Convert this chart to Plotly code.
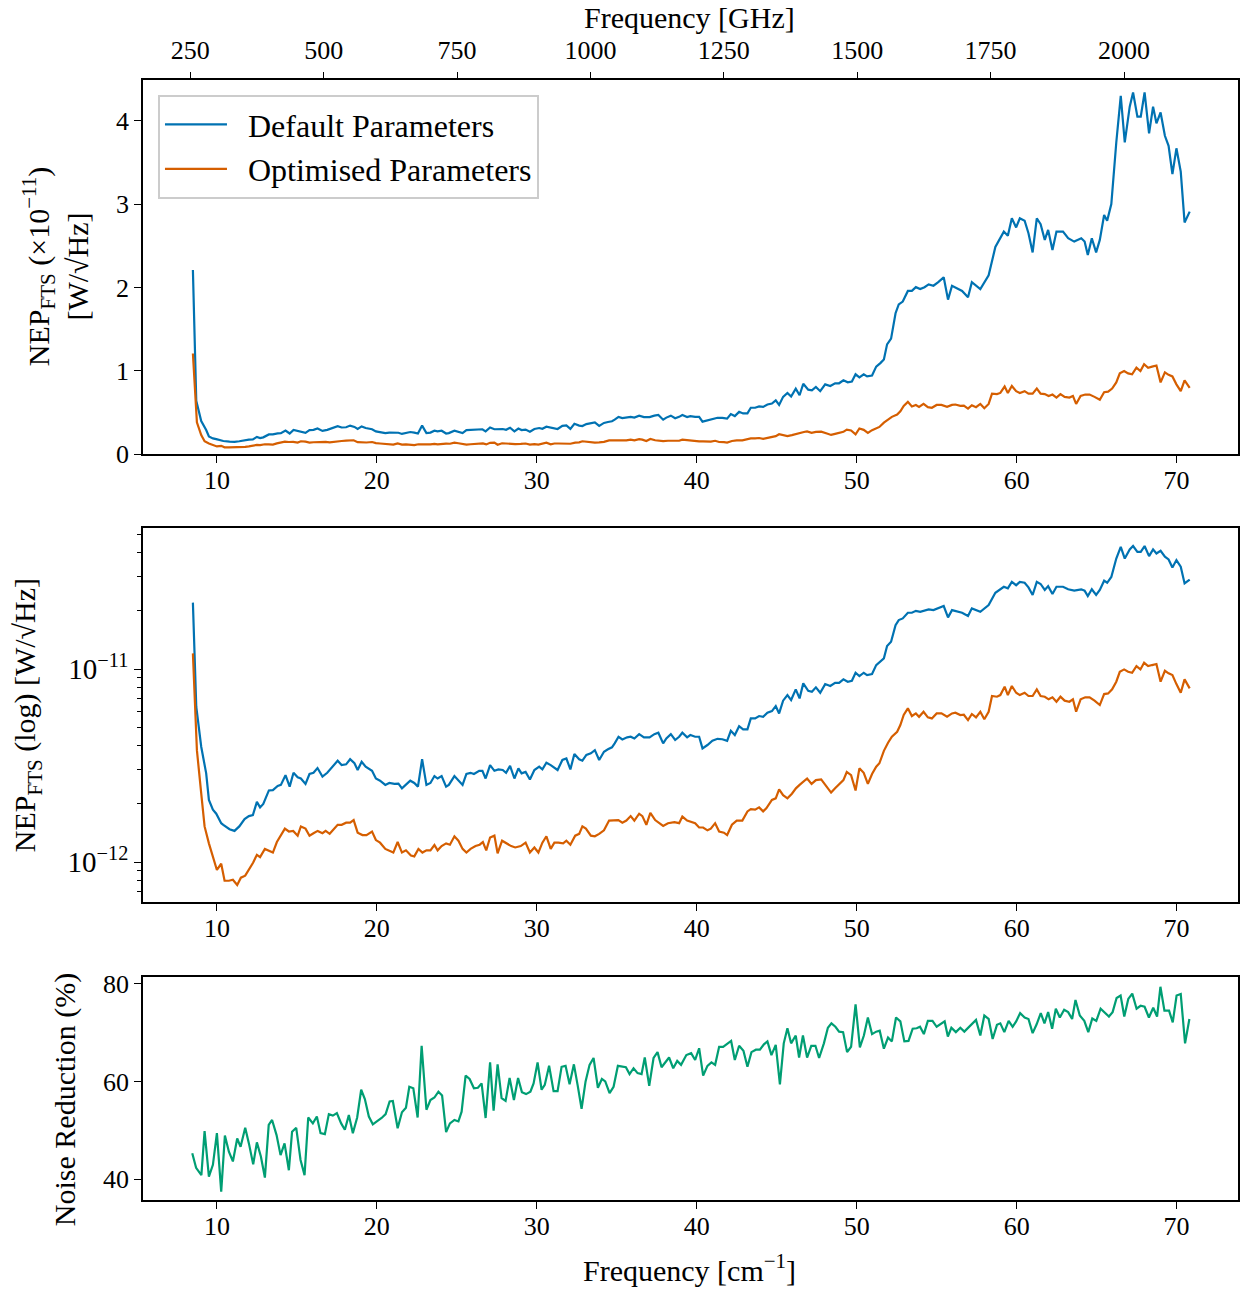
import plotly.graph_objects as go

# ---------------- data ----------------
# NEP values in units of 1e-11 W/sqrt(Hz); frequency in cm^-1
freq_default = [
    8.5, 8.71, 9.02, 9.33, 9.5, 9.75, 9.96, 10.27, 10.4, 10.79, 11.1, 11.4, 11.73, 12.0, 12.25, 12.5, 12.7, 12.9,
    13.25, 13.5, 13.8, 14.0, 14.29, 14.55, 14.79, 15.05, 15.25, 15.54, 15.79, 16.04, 16.29, 16.6, 16.9, 17.25,
    17.55, 17.8, 18.08, 18.33, 18.6, 18.8, 19.05, 19.3, 19.7, 19.94, 20.2, 20.53, 20.78, 21.1, 21.35, 21.57,
    21.82, 22.09, 22.34, 22.57, 22.83,
    23.1, 23.35, 23.6, 23.8, 24.05, 24.33, 24.5, 24.85, 25.1, 25.36, 25.6, 25.86, 26.07, 26.4, 26.6, 26.8, 27.08,
    27.35, 27.6, 27.87, 28.08, 28.33, 28.6, 28.85, 29.05, 29.3, 29.57, 29.85, 30.15, 30.35, 30.6, 30.87, 31.3,
    31.6, 31.85, 32.1, 32.35, 32.65, 32.85, 33.1, 33.38, 33.63, 33.9, 34.2, 34.45, 34.7, 34.87, 35.11, 35.35,
    35.65, 35.87, 36.1, 36.4, 36.7, 37.05, 37.35, 37.6, 37.9, 38.1, 38.38, 38.65, 38.9, 39.1, 39.4,
    39.6, 39.9, 40.15, 40.36, 40.67, 40.98, 41.3, 41.6, 41.9, 42.13, 42.38, 42.65, 42.9, 43.17, 43.38, 43.65,
    43.9, 44.15, 44.42, 44.7, 44.94, 45.15, 45.4, 45.67, 45.9, 46.19, 46.43, 46.66, 46.97, 47.2, 47.45, 47.72,
    48.03, 48.35, 48.65, 48.9, 49.17, 49.44, 49.7, 49.93, 50.17, 50.44, 50.65, 50.96, 51.22, 51.48, 51.7, 51.9,
    52.15, 52.43, 52.63, 52.88, 53.2, 53.45, 53.7, 53.97, 54.24, 54.5, 54.8, 55.1, 55.44, 55.71,
    55.96, 56.59, 56.96, 57.2, 57.73, 58.25, 58.67, 59.2, 59.45, 59.7, 59.97, 60.2, 60.5, 60.74, 61.0, 61.26,
    61.5, 61.76, 61.97, 62.24, 62.49, 62.9, 63.22, 63.6, 64.04, 64.25, 64.45, 64.7, 64.97, 65.2, 65.47, 65.66,
    65.92, 66.23, 66.51, 66.76, 67.07, 67.28, 67.55, 67.76, 68.0, 68.28, 68.53, 68.74, 69.0, 69.27, 69.5,
    69.74, 69.99, 70.26, 70.5, 70.82,
]
nep_default = [
    2.21, 0.638, 0.396, 0.288, 0.210, 0.187, 0.178, 0.159, 0.156, 0.148, 0.145, 0.153, 0.167, 0.173, 0.175,
    0.205, 0.192, 0.200, 0.235, 0.236, 0.248, 0.251, 0.282, 0.246, 0.290, 0.275, 0.271, 0.254, 0.286, 0.290,
    0.307, 0.277, 0.290, 0.312, 0.335, 0.318, 0.321, 0.341, 0.325, 0.300, 0.331, 0.312, 0.297, 0.271, 0.264,
    0.251, 0.257, 0.254, 0.255, 0.241, 0.251, 0.264, 0.257, 0.246, 0.341,
    0.251, 0.257, 0.279, 0.271, 0.279, 0.246, 0.251, 0.279, 0.264, 0.251, 0.286, 0.290, 0.286, 0.297, 0.297,
    0.271, 0.318, 0.297, 0.302, 0.300, 0.290, 0.315, 0.271, 0.306, 0.288, 0.293, 0.268, 0.300, 0.312, 0.302,
    0.327, 0.318, 0.300, 0.338, 0.344, 0.302, 0.363, 0.341, 0.335, 0.359, 0.366, 0.380, 0.338, 0.373, 0.384,
    0.393, 0.412, 0.446, 0.432, 0.443, 0.446, 0.437, 0.460, 0.443, 0.443, 0.460, 0.468, 0.412, 0.437, 0.460,
    0.429, 0.446, 0.468, 0.443,
    0.455, 0.446, 0.446, 0.388, 0.404, 0.425, 0.435, 0.433, 0.425, 0.479, 0.455, 0.506, 0.487, 0.487, 0.555,
    0.555, 0.571, 0.566, 0.594, 0.606, 0.643, 0.589, 0.686, 0.733, 0.691, 0.785, 0.705, 0.843, 0.772, 0.763,
    0.804, 0.754, 0.836, 0.817, 0.849, 0.849, 0.884, 0.860, 0.870, 0.957, 0.920, 0.957, 0.931, 0.942, 1.049,
    1.091, 1.136, 1.316, 1.385, 1.690, 1.795, 1.830, 1.958, 1.958, 2.003, 1.98, 2.003, 2.037, 2.02, 2.063,
    2.121, 1.853,
    2.02, 1.958, 1.882, 2.063, 1.98, 2.145, 2.485, 2.67, 2.62, 2.83, 2.72, 2.83, 2.80, 2.65, 2.42, 2.83, 2.76,
    2.57, 2.69, 2.45, 2.67, 2.67, 2.59, 2.55, 2.59, 2.55, 2.39, 2.59, 2.42, 2.57, 2.87, 2.80, 3.0, 3.74, 4.30,
    3.74, 4.17, 4.34, 4.05, 4.05, 4.34, 3.85, 4.17, 3.97, 4.10, 3.82, 3.70, 3.36, 3.67, 3.39, 2.78, 2.91,
]

freq_optimised = [
    8.5, 8.75, 9.02, 9.23, 9.5, 9.75, 10.0, 10.27, 10.48, 10.75, 11.0, 11.27, 11.5, 11.77, 12.0, 12.27, 12.5,
    12.7, 13.0, 13.24, 13.5, 13.75, 14.05, 14.25, 14.5, 14.77, 15.05, 15.25, 15.54, 15.79, 16.04, 16.3, 16.6,
    16.8, 17.05, 17.35, 17.55, 17.8, 18.08, 18.33, 18.55, 18.8, 19.1, 19.35, 19.7, 19.94, 20.2, 20.53, 20.78,
    21.03, 21.3, 21.57, 21.82, 22.13, 22.34, 22.6, 22.85,
    23.1, 23.35, 23.6, 23.8, 24.05, 24.33, 24.57, 24.85, 25.1, 25.36, 25.6, 25.86, 26.17, 26.43, 26.63, 26.84,
    27.08, 27.35, 27.55, 27.83, 28.1, 28.4, 28.65, 29.0, 29.3, 29.57, 29.85, 30.1, 30.35, 30.6, 30.87, 31.1,
    31.35, 31.65, 31.85, 32.1, 32.4, 32.65, 32.85, 33.07, 33.38, 33.63, 33.9, 34.2, 34.52, 34.83, 35.1, 35.35,
    35.6, 35.87, 36.1, 36.4, 36.6, 36.85, 37.1, 37.4, 37.65, 37.9, 38.2, 38.6, 38.9, 39.1, 39.4,
    39.9, 40.15, 40.4, 40.67, 40.88, 41.15, 41.4, 41.7, 41.9, 42.2, 42.5, 42.85, 43.17, 43.38, 43.65, 43.9,
    44.15, 44.35, 44.7, 44.94, 45.15, 45.4, 45.67, 45.95, 46.2, 46.43, 46.7, 46.9, 47.18, 47.45, 47.78, 48.14,
    48.4, 48.65, 48.9, 49.17, 49.38, 49.65, 49.93, 50.17, 50.44, 50.7, 50.96, 51.22, 51.42, 51.7, 51.96, 52.2,
    52.53, 52.73, 52.94, 53.2, 53.45, 53.7, 53.9, 54.18, 54.45, 54.7, 55.0, 55.3, 55.65, 55.96,
    56.17, 56.48, 56.7, 56.96, 57.2, 57.46, 57.73, 57.98, 58.25, 58.46, 58.77, 58.98, 59.25, 59.45, 59.7,
    59.97, 60.2, 60.5, 60.74, 61.0, 61.26, 61.5, 61.76, 62.0, 62.24, 62.49, 62.74, 63.0, 63.3, 63.52, 63.72,
    64.0, 64.29, 64.56, 64.87, 65.2, 65.47, 65.72, 65.97, 66.23, 66.45, 66.72, 66.97, 67.22, 67.49, 67.74,
    67.97, 68.22, 68.47, 68.74, 69.0, 69.27, 69.5, 69.74, 69.99, 70.26, 70.5, 70.82,
]
nep_optimised = [
    1.206, 0.380, 0.227, 0.153, 0.125, 0.105, 0.091, 0.098, 0.080, 0.080, 0.081, 0.076, 0.083, 0.085, 0.091,
    0.0995, 0.109, 0.106, 0.117, 0.115, 0.112, 0.127, 0.141, 0.149, 0.144, 0.145, 0.137, 0.153, 0.149, 0.137,
    0.141, 0.145, 0.141, 0.145, 0.140, 0.149, 0.156, 0.156, 0.160, 0.160, 0.165, 0.142, 0.138, 0.138, 0.144,
    0.130, 0.126, 0.117, 0.115, 0.112, 0.127, 0.112, 0.115, 0.108, 0.107, 0.117, 0.112,
    0.115, 0.115, 0.1225, 0.115, 0.121, 0.125, 0.123, 0.136, 0.129, 0.117, 0.112, 0.117, 0.121, 0.123, 0.127,
    0.115, 0.134, 0.137, 0.111, 0.129, 0.125, 0.121, 0.119, 0.121, 0.126, 0.112, 0.119, 0.112, 0.126, 0.136,
    0.117, 0.126, 0.126, 0.125, 0.129, 0.123, 0.137, 0.140, 0.153, 0.149, 0.137, 0.136, 0.140, 0.146, 0.164,
    0.164, 0.165, 0.160, 0.164, 0.173, 0.164, 0.178, 0.173, 0.156, 0.180, 0.165, 0.159, 0.154, 0.159, 0.161,
    0.159, 0.172, 0.164,
    0.159, 0.151, 0.151, 0.146, 0.149, 0.159, 0.144, 0.142, 0.138, 0.156, 0.164, 0.164, 0.183, 0.188, 0.187,
    0.192, 0.183, 0.190, 0.210, 0.214, 0.238, 0.222, 0.214, 0.226, 0.241, 0.251, 0.264, 0.271, 0.254, 0.266,
    0.268, 0.246, 0.229, 0.241, 0.254, 0.266, 0.293, 0.282, 0.235, 0.306, 0.290, 0.254, 0.286, 0.312, 0.325,
    0.377, 0.415, 0.446, 0.473, 0.513, 0.578, 0.626, 0.571, 0.589, 0.566, 0.601, 0.562, 0.555, 0.589, 0.589,
    0.566, 0.589,
    0.594, 0.578, 0.58, 0.544, 0.585, 0.562, 0.601, 0.549, 0.601, 0.725, 0.719, 0.733, 0.810, 0.733, 0.817,
    0.754, 0.733, 0.754, 0.725, 0.725, 0.785, 0.725, 0.719, 0.697, 0.714, 0.677, 0.719, 0.686, 0.677, 0.697,
    0.601, 0.697, 0.714, 0.714, 0.686, 0.651, 0.742, 0.748, 0.785, 0.860, 0.968, 0.996, 0.968, 0.957, 1.036,
    0.996, 1.078, 1.036, 1.049, 1.062, 0.860, 0.980, 0.950, 0.931, 0.836, 0.754, 0.884, 0.794,
]

freq_reduction = [
    8.46, 8.7, 9.03, 9.23, 9.5, 9.75, 10.0, 10.27, 10.5, 10.75, 11.0, 11.27, 11.48, 11.77, 12.0, 12.27, 12.5,
    12.75, 13.0, 13.24, 13.45, 13.73, 13.98, 14.23, 14.5, 14.7, 14.96, 15.23, 15.48, 15.71, 16.0, 16.25, 16.48,
    16.75, 17.0, 17.25, 17.5, 17.77, 18.0, 18.25, 18.5, 18.77, 19.02, 19.25, 19.5, 19.75, 20.0, 20.3, 20.55,
    20.8, 21.0, 21.3, 21.57, 21.82, 22.03, 22.28, 22.55, 22.8,
    23.1, 23.35, 23.6, 23.85, 24.08, 24.33, 24.57, 24.85, 25.1, 25.3, 25.55, 25.8, 26.07, 26.32, 26.55, 26.8,
    27.08, 27.3, 27.55, 27.8, 28.05, 28.3, 28.57, 28.83, 29.07, 29.33, 29.6, 29.8, 30.05, 30.3, 30.5, 30.77,
    31.05, 31.3, 31.55, 31.8, 32.05, 32.32, 32.55, 32.8, 33.05, 33.3, 33.55, 33.82, 34.07, 34.28, 34.55, 34.8,
    35.07, 35.3, 35.57, 35.8, 36.05, 36.3, 36.55, 36.75, 37.03, 37.3, 37.55, 37.8, 38.05, 38.27, 38.53, 38.78,
    39.02, 39.35,
    39.65, 39.9, 40.15, 40.4, 40.67, 40.92, 41.15, 41.4, 41.65, 41.9, 42.15, 42.38, 42.65, 42.92, 43.17, 43.42,
    43.7, 43.95, 44.2, 44.42, 44.67, 44.94, 45.2, 45.44, 45.67, 45.9, 46.19, 46.4, 46.64, 46.9, 47.16, 47.42,
    47.65, 47.95, 48.2, 48.42, 48.67, 48.9, 49.15, 49.4, 49.65, 49.93, 50.2, 50.45, 50.7, 50.96, 51.22, 51.44,
    51.7, 51.96, 52.2, 52.46, 52.73, 52.98, 53.24, 53.5, 53.75, 53.96, 54.2, 54.45, 54.74, 55.0, 55.26, 55.5,
    55.7, 55.92,
    56.2, 56.48, 56.73, 56.96, 57.2, 57.46, 57.73, 57.98, 58.25, 58.5, 58.77, 58.98, 59.23, 59.5, 59.75, 59.97,
    60.22, 60.5, 60.74, 61.0, 61.25, 61.51, 61.74, 61.97, 62.22, 62.45, 62.7, 62.97, 63.22, 63.47, 63.68,
    63.95, 64.23, 64.48, 64.73, 64.98, 65.25, 65.52, 65.77, 66.0, 66.25, 66.5, 66.73, 66.98, 67.23, 67.5,
    67.75, 68.0, 68.27, 68.54, 68.78, 68.99, 69.24, 69.53, 69.76, 70.0, 70.26, 70.53, 70.8,
]
reduction = [
    45.3, 42.3, 40.8, 49.8, 40.5, 42.9, 49.4, 37.4, 48.9, 45.6, 43.6, 48.3, 46.6, 50.5, 47.3, 43.0, 47.5,
    44.6, 40.3, 51.1, 52.1, 49.0, 44.9, 47.3, 41.8, 49.7, 50.5, 43.9, 40.8, 52.6, 51.4, 52.8, 49.4, 49.2,
    53.3, 53.0, 53.5, 51.4, 50.1, 53.1, 49.4, 52.6, 58.3, 56.4, 52.8, 51.2, 51.8, 52.5, 53.3, 55.9, 56.0,
    50.4, 53.7, 54.6, 58.9, 58.6, 52.6, 67.3,
    54.2, 56.2, 56.7, 57.9, 57.1, 49.6, 51.4, 52.1, 51.8, 53.8, 61.2, 60.5, 58.6, 58.7, 59.6, 52.5, 63.9,
    54.0, 63.5, 56.6, 56.0, 60.7, 56.2, 60.7, 57.8, 57.4, 57.9, 59.6, 63.9, 58.3, 59.3, 63.2, 58.0, 58.0,
    63.0, 63.2, 59.4, 63.5, 59.3, 54.4, 60.0, 63.4, 64.8, 58.7, 60.5, 60.0, 57.6, 58.9, 63.2, 63.0, 62.9,
    61.5, 62.7, 61.7, 61.5, 64.9, 59.1, 64.8, 66.0, 62.9, 63.9, 64.9, 62.7, 64.2, 63.4, 65.4,
    65.8, 64.4, 66.8, 61.2, 63.2, 63.9, 63.4, 67.1, 67.1, 67.8, 68.3, 64.4, 67.3, 66.3, 63.0, 66.0, 66.5,
    66.5, 67.6, 68.2, 65.4, 67.5, 59.4, 67.8, 70.9, 67.8, 69.4, 64.9, 69.4, 64.9, 67.3, 67.3, 64.8, 67.8,
    71.0, 71.9, 71.2, 70.2, 70.1, 66.0, 67.1, 75.8, 67.0, 69.4, 73.1, 69.7, 70.2, 70.4, 66.7, 69.0, 68.2,
    73.1, 72.3, 68.2, 68.3, 70.8, 70.9, 71.2, 69.7, 72.4, 72.4, 71.2, 71.7, 72.3, 69.2, 71.0,
    70.1, 71.0, 70.2, 71.0, 71.9, 72.6, 69.4, 73.5, 72.8, 68.7, 71.6, 71.9, 70.1, 72.4, 71.2, 72.3, 74.0,
    73.1, 72.8, 69.9, 71.7, 74.0, 71.9, 74.2, 70.8, 74.9, 73.1, 74.7, 74.2, 72.8, 76.7, 73.5, 72.4, 70.1,
    72.9, 72.4, 74.9, 74.0, 73.3, 74.2, 77.1, 77.6, 73.3, 76.9, 78.0, 74.9, 75.5, 75.3, 73.1, 75.1, 73.3,
    79.4, 74.5, 74.5, 72.1, 77.6, 77.9, 67.8, 72.8,
]

x_ticks_cm = [10, 20, 30, 40, 50, 60, 70]
x_ticks_ghz = [250, 500, 750, 1000, 1250, 1500, 1750, 2000]
y_ticks_lin = [0, 1, 2, 3, 4]
y_ticks_log = [1e-12, 1e-11]
y_ticktext_log = ["10<sup>\u221212</sup>", "10<sup>\u221211</sup>"]
y_minor_log = [6e-13, 7e-13, 8e-13, 9e-13, 2e-12, 3e-12, 4e-12, 5e-12, 6e-12, 7e-12, 8e-12, 9e-12,
               2e-11, 3e-11, 4e-11, 5e-11]
y_ticks_red = [40, 60, 80]
legend_names = ["Default Parameters", "Optimised Parameters"]

CM_TO_GHZ = 29.9792458
NEP_UNIT = 1e-11

# ---------------- styling ----------------
BLUE, ORANGE, GREEN = "#0072B2", "#D55E00", "#009E73"
FONT = "Liberation Serif"
W, H = 1244, 1289
ML, MR, MT, MB = 143, 4, 80, 89
PW, PH = W - ML - MR, H - MT - MB


def px_x(p):
    return (p - ML) / PW


def px_y(p):
    return (H - MB - p) / PH


XR = [5.38, 73.84]
LW = 2.2
PAD = "\u2002"

fig = go.Figure()

fig.add_trace(go.Scatter(x=freq_default, y=nep_default, mode="lines", name=PAD + legend_names[0],
                         line=dict(color=BLUE, width=LW), xaxis="x", yaxis="y"))
fig.add_trace(go.Scatter(x=freq_optimised, y=nep_optimised, mode="lines", name=PAD + legend_names[1],
                         line=dict(color=ORANGE, width=LW), xaxis="x", yaxis="y"))
# invisible trace to activate the GHz axis
fig.add_trace(go.Scatter(x=[f * CM_TO_GHZ for f in freq_default], y=nep_default, mode="lines",
                         line=dict(color=BLUE, width=0.1), opacity=0, showlegend=False,
                         hoverinfo="skip", xaxis="x4", yaxis="y"))

fig.add_trace(go.Scatter(x=freq_default, y=[v * NEP_UNIT for v in nep_default], mode="lines",
                         line=dict(color=BLUE, width=LW), showlegend=False, xaxis="x2", yaxis="y2"))
fig.add_trace(go.Scatter(x=freq_optimised, y=[v * NEP_UNIT for v in nep_optimised], mode="lines",
                         line=dict(color=ORANGE, width=LW), showlegend=False, xaxis="x2", yaxis="y2"))

fig.add_trace(go.Scatter(x=freq_reduction, y=reduction, mode="lines",
                         line=dict(color=GREEN, width=LW), showlegend=False, xaxis="x3", yaxis="y3"))

axis_common = dict(showline=True, linecolor="black", linewidth=1.8, mirror=True,
                   ticks="outside", ticklen=7, tickwidth=1.4, tickcolor="black",
                   showgrid=False, zeroline=False,
                   tickfont=dict(family=FONT, size=26, color="black"))
xaxis_common = dict(axis_common, ticklabelstandoff=-5)

dom_top = [px_y(454), px_y(80)]
dom_mid = [px_y(902), px_y(528)]
dom_bot = [px_y(1200), px_y(977)]

fig.update_layout(
    width=W, height=H, autosize=False,
    margin=dict(l=ML, r=MR, t=MT, b=MB),
    paper_bgcolor="white", plot_bgcolor="white",
    font=dict(family=FONT, size=26, color="black"),
    xaxis=dict(domain=[0, 1], anchor="y", range=XR, tickmode="array", tickvals=x_ticks_cm, **xaxis_common),
    xaxis4=dict(overlaying="x", side="top", anchor="y", range=[XR[0] * CM_TO_GHZ, XR[1] * CM_TO_GHZ],
                tickmode="array", tickvals=x_ticks_ghz, ticks="outside", ticklen=7, tickwidth=1.4,
                tickcolor="black", showgrid=False, zeroline=False, showline=False, ticklabelstandoff=3,
                tickfont=dict(family=FONT, size=26, color="black")),
    yaxis=dict(domain=dom_top, anchor="x", range=[0, 4.49], tickmode="array", tickvals=y_ticks_lin,
               **axis_common),
    xaxis2=dict(domain=[0, 1], anchor="y2", range=XR, tickmode="array", tickvals=x_ticks_cm, **xaxis_common),
    yaxis2=dict(domain=dom_mid, anchor="x2", type="log", range=[-12.207, -10.269], tickmode="array",
                tickvals=y_ticks_log, ticktext=y_ticktext_log,
                minor=dict(tickmode="array", tickvals=y_minor_log, ticks="outside", ticklen=4,
                           tickwidth=1.1, tickcolor="black", showgrid=False),
                **dict(axis_common, tickfont=dict(family=FONT, size=29, color="black"))),
    xaxis3=dict(domain=[0, 1], anchor="y3", range=XR, tickmode="array", tickvals=x_ticks_cm, **xaxis_common),
    yaxis3=dict(domain=dom_bot, anchor="x3", range=[35.7, 81.4], tickmode="array", tickvals=y_ticks_red,
                **axis_common),
    legend=dict(x=px_x(158), y=px_y(95), xanchor="left", yanchor="top",
                bgcolor="white", bordercolor="#cccccc", borderwidth=2,
                font=dict(family=FONT, size=32, color="black"),
                itemwidth=62, tracegroupgap=0),
    showlegend=True,
)

annotations = [
    dict(text="Frequency [GHz]", x=px_x(690), y=px_y(18), xref="paper", yref="paper",
         xanchor="center", yanchor="middle", showarrow=False, font=dict(family=FONT, size=30)),
    dict(text="Frequency [cm<sup>\u22121</sup>]", x=px_x(690), y=px_y(1268), xref="paper", yref="paper",
         xanchor="center", yanchor="middle", showarrow=False, font=dict(family=FONT, size=30)),
    dict(text="NEP<sub>FTS</sub> (\u00d710<sup>\u221211</sup>)<br>[W/\u221aHz]", x=px_x(56), y=px_y(267),
         xref="paper", yref="paper", xanchor="center", yanchor="middle", textangle=-90, showarrow=False,
         align="center", font=dict(family=FONT, size=30)),
    dict(text="NEP<sub>FTS</sub> (log) [W/\u221aHz]", x=px_x(27), y=px_y(715),
         xref="paper", yref="paper", xanchor="center", yanchor="middle", textangle=-90, showarrow=False,
         font=dict(family=FONT, size=30)),
    dict(text="Noise Reduction (%)", x=px_x(65), y=px_y(1100),
         xref="paper", yref="paper", xanchor="center", yanchor="middle", textangle=-90, showarrow=False,
         font=dict(family=FONT, size=30)),
]
fig.update_layout(annotations=annotations)

fig.write_html("out.html")
